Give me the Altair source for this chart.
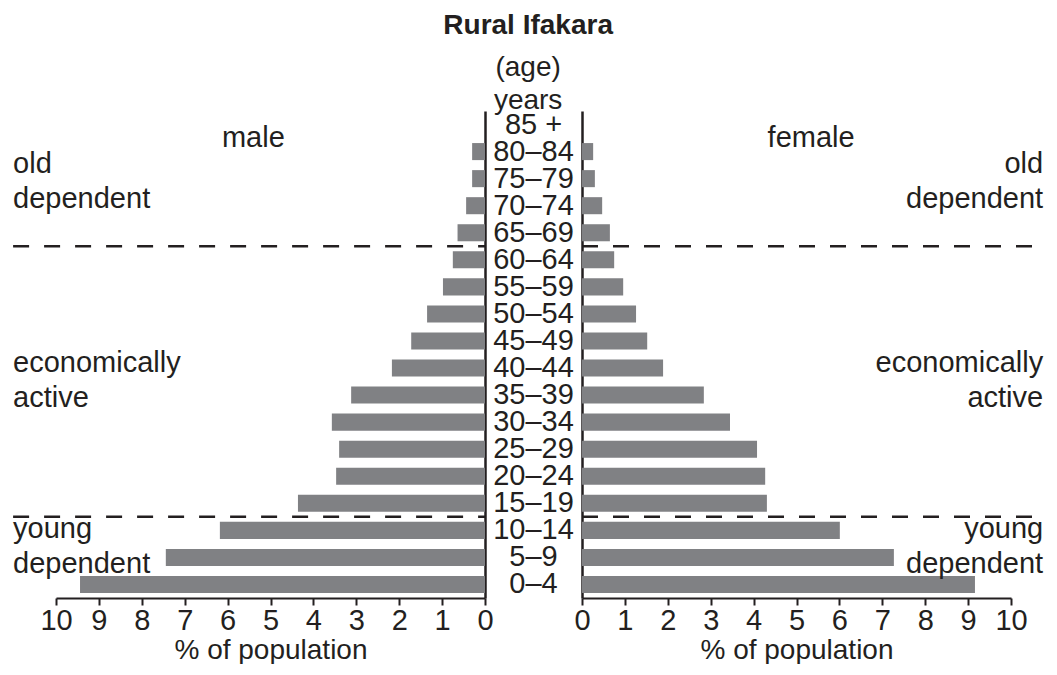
import altair as alt
import pandas as pd

# ---- data ----
ages = ["85 +", "80–84", "75–79", "70–74", "65–69", "60–64", "55–59", "50–54",
        "45–49", "40–44", "35–39", "30–34", "25–29", "20–24", "15–19", "10–14",
        "5–9", "0–4"]
male_pct = [0.0, 0.30, 0.30, 0.44, 0.64, 0.75, 0.98, 1.35, 1.72, 2.17, 3.12,
            3.57, 3.40, 3.47, 4.36, 6.18, 7.44, 9.44]
female_pct = [0.0, 0.26, 0.30, 0.47, 0.65, 0.75, 0.96, 1.26, 1.52, 1.89, 2.84,
              3.45, 4.08, 4.27, 4.31, 6.01, 7.27, 9.16]
x_ticks = list(range(0, 11))

group_lines = [["old", "dependent"], ["economically", "active"], ["young", "dependent"]]
group_rows = ["80–84", "40–44", "10–14"]
group_dy = [12, -5, -1]
boundary_rows = ["60–64", "10–14"]  # dashed line drawn above these rows

INK = "#231f20"
BAR = "#808184"
FONT = "Liberation Sans"
FS = 29
W_SIDE = 429
W_MID = 97
H = 487
STEP = H / len(ages)

df = pd.DataFrame({"age": ages, "male": male_pct, "female": female_pct})

yscale = alt.Scale(domain=ages, paddingInner=0.37, paddingOuter=0.185)


def side(field, reverse, sex_label, sex_x, note_x, note_align, axis_orient, rule_x0, rule_x1):
    xscale = alt.Scale(domain=[0, 10], reverse=reverse, nice=False, zero=True)
    bars = alt.Chart(df).mark_bar(color=BAR).encode(
        x=alt.X(f"{field}:Q", scale=xscale,
                axis=alt.Axis(values=x_ticks, title="% of population", format="d",
                              labelFlush=False, grid=False)),
        y=alt.Y("age:N", scale=yscale,
                axis=alt.Axis(orient=axis_orient, labels=False, ticks=False, title=None,
                              domain=True, domainColor=INK, domainWidth=2.5)),
    )
    layers = [bars]
    rules_df = pd.DataFrame({"age": boundary_rows, "x0": [rule_x0] * 2, "x1": [rule_x1] * 2})
    layers.append(
        alt.Chart(rules_df).mark_rule(color=INK, strokeWidth=2.5, strokeDash=[16, 15],
                                      yOffset=-STEP / 2).encode(
            x=alt.X("x0:Q", scale=xscale), x2="x1:Q",
            y=alt.Y("age:N", scale=yscale))
    )
    sex_df = pd.DataFrame({"age": ["80–84"], "x": [sex_x]})
    layers.append(
        alt.Chart(sex_df).mark_text(text=sex_label, fontSize=FS, font=FONT, color=INK,
                                    align="center", baseline="middle", dy=-STEP / 2).encode(
            x=alt.X("x:Q", scale=xscale), y=alt.Y("age:N", scale=yscale))
    )
    for lines, row, dy in zip(group_lines, group_rows, group_dy):
        ndf = pd.DataFrame({"age": [row], "x": [note_x]})
        layers.append(
            alt.Chart(ndf).mark_text(text=lines, fontSize=FS, font=FONT, color=INK,
                                     align=note_align, baseline="middle", lineHeight=35,
                                     dy=dy).encode(
                x=alt.X("x:Q", scale=xscale), y=alt.Y("age:N", scale=yscale))
        )
    return alt.layer(*layers).properties(width=W_SIDE, height=H)


left = side("male", True, "male", 5.4, 11.0, "left", "right", 11.0, 0)
right = side("female", False, "female", 5.34, 10.75, "right", "left", 0, 10.75)

mid = alt.Chart(df).mark_text(fontSize=29, font=FONT, color=INK, baseline="middle",
                              align="center").encode(
    y=alt.Y("age:N", scale=yscale, axis=None),
    x=alt.value(W_MID / 2),
    text="age:N",
).properties(width=W_MID, height=H)

chart = alt.hconcat(left, mid, right, spacing=0, bounds="flush").properties(
    title=alt.TitleParams(
        text="Rural Ifakara", subtitle=["(age)", "years"],
        font=FONT, fontSize=28, fontWeight="bold", color=INK,
        subtitleFont=FONT, subtitleFontSize=28, subtitleColor=INK,
        subtitleLineHeight=33, subtitlePadding=14,
        anchor="middle", offset=-4,
    ),
    padding={"left": 3, "right": 0, "top": 3, "bottom": 0},
).configure_view(stroke=None).configure_axis(
    labelFont=FONT, titleFont=FONT, labelFontSize=FS, titleFontSize=28,
    labelColor=INK, titleColor=INK, domainColor=INK, tickColor=INK,
    domainWidth=2, tickWidth=2, tickSize=7, labelPadding=1, titlePadding=1,
    titleFontWeight="normal",
)

chart.save("out.html", embed_options={"renderer": "svg", "actions": False})
